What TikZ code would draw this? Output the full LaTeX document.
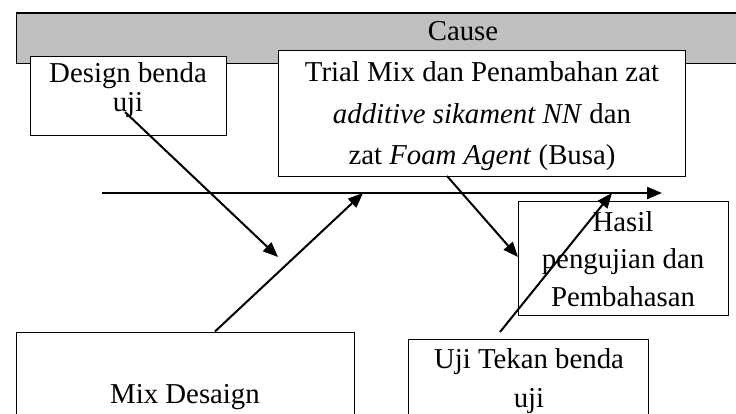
\documentclass[tikz,border=0pt]{standalone}
\usepackage{fontspec}
\setmainfont{Liberation Serif}
\usetikzlibrary{arrows.meta}
\begin{document}
\begin{tikzpicture}[x=1pt,y=-1pt,
  band/.style={draw=black, line width=1.3pt, fill={rgb,255:red,192;green,192;blue,192}, inner sep=0pt, anchor=north west},
  box/.style={draw=black, line width=1.3pt, fill=white, inner sep=0pt, anchor=north west},
  txt/.style={anchor=base, inner sep=0pt, font=\fontsize{28.8}{30}\selectfont},
  arr/.style={line width=2pt, -{Triangle[length=15pt,width=12pt]}},
]
\useasboundingbox (0,0) rectangle (736,414);
\begin{scope}
\clip (0,0) rectangle (736,414);

% header band
\node (band) [band, minimum width=760pt, minimum height=50.5pt] at (16,12.5) {};
\node (cause) [txt] at (463,40.5) {Cause};

% boxes
\node (design) [box, minimum width=196.5pt, minimum height=79pt] at (29.5,56) {};
\node (trial)  [box, minimum width=407pt,   minimum height=126pt] at (278,50) {};
\node (hasil)  [box, minimum width=210pt,   minimum height=114pt] at (518,201) {};
\node (mix)    [box, minimum width=338pt,   minimum height=110pt] at (16,331.5) {};
\node (uji)    [box, minimum width=240pt,   minimum height=100pt] at (408,339) {};

% box texts
\node (design1) [txt] at (128,83)  {Design benda};
\node (design2) [txt] at (128,112) {uji};

\node (trial1) [txt] at (482,82)    {Trial Mix dan Penambahan zat};
\node (trial2) [txt] at (482,123.5) {\textit{additive sikament NN} dan};
\node (trial3) [txt] at (482,165)   {zat \textit{Foam Agent} (Busa)};

\node (hasil1) [txt] at (623,232)   {Hasil};
\node (hasil2) [txt] at (623,268.5) {pengujian dan};
\node (hasil3) [txt] at (623,306.5) {Pembahasan};

\node (mix1) [txt] at (185,403) {Mix Desaign};

\node (uji1) [txt] at (529,368.5) {Uji Tekan benda};
\node (uji2) [txt] at (529,407)   {uji};

% connector end points
\coordinate (s0) at (102,193);
\coordinate (s1) at (662,193);
\coordinate (d0) at (125,112);
\coordinate (d1) at (278,257);
\coordinate (m0) at (215,331.5);
\coordinate (m1) at (363,193);
\coordinate (t0) at (447,176);
\coordinate (t1) at (518,257);
\coordinate (u0) at (500,332);
\coordinate (u1) at (612,193);

% spine and branches
\draw[arr] (s0) -- (s1);
\draw[arr] (d0) -- (d1);
\draw[arr] (m0) -- (m1);
\draw[arr] (t0) -- (t1);
\draw[arr] (u0) -- (u1);
\end{scope}
\end{tikzpicture}
\end{document}
